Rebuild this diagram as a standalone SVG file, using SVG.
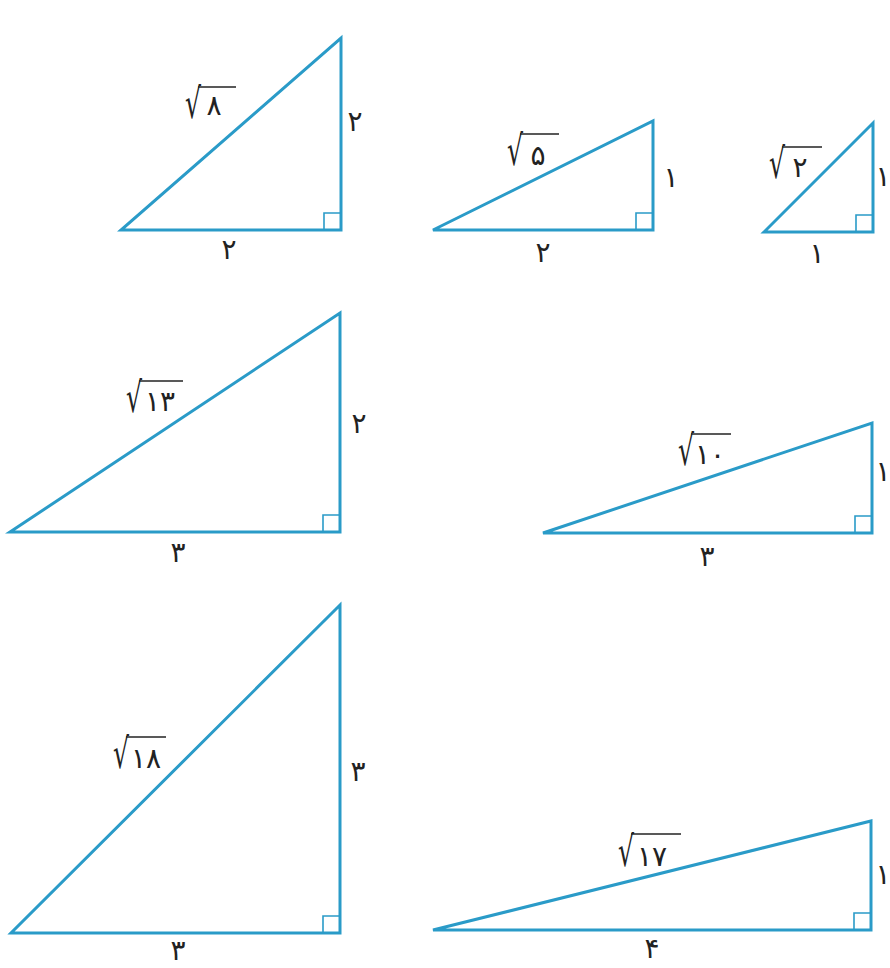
<svg xmlns="http://www.w3.org/2000/svg" width="890" height="968" viewBox="0 0 890 968">
<style>
.tri{fill:none;stroke:#2a9bc8;stroke-width:3;stroke-linejoin:miter}
.ra{fill:none;stroke:#2a9bc8;stroke-width:1.6}
.num{font-family:"DejaVu Sans",sans-serif;font-size:28px;fill:#222;text-anchor:middle}
.rad{font-family:"DejaVu Sans",sans-serif;font-size:42px;fill:#222}
.bar{stroke:#222;stroke-width:1.5}
</style>
<rect width="890" height="968" fill="#fff"/>
<g id="t1">
<polygon class="tri" points="121,230 341,230 341,38"/>
<polyline class="ra" points="324,230 324,213 341,213"/>
<text class="rad" transform="translate(185,118) scale(0.6,1)">√</text><line class="bar" x1="198" y1="87" x2="236" y2="87"/>
<text class="num" x="214" y="115">۸</text>
<text class="num" x="355" y="131">۲</text>
<text class="num" x="229" y="259">۲</text>
</g>
<g id="t2">
<polygon class="tri" points="433,230 653,230 653,121"/>
<polyline class="ra" points="636,230 636,213 653,213"/>
<text class="rad" transform="translate(507,165) scale(0.6,1)">√</text><line class="bar" x1="520" y1="134" x2="559" y2="134"/>
<text class="num" x="538" y="165">۵</text>
<text class="num" x="671" y="187">۱</text>
<text class="num" x="543" y="262">۲</text>
</g>
<g id="t3">
<polygon class="tri" points="764,232 873,232 873,123"/>
<polyline class="ra" points="856,232 856,215 873,215"/>
<text class="rad" transform="translate(769,178) scale(0.6,1)">√</text><line class="bar" x1="782" y1="147" x2="822" y2="147"/>
<text class="num" x="800" y="177">۲</text>
<text class="num" x="817" y="263">۱</text>
<text class="num" x="883" y="186">۱</text>
</g>
<g id="t4">
<polygon class="tri" points="10,532 340,532 340,313"/>
<polyline class="ra" points="323,532 323,515 340,515"/>
<text class="rad" transform="translate(126,412) scale(0.6,1)">√</text><line class="bar" x1="139" y1="381" x2="183" y2="381"/>
<text class="num" x="160" y="411">۱۳</text>
<text class="num" x="359" y="433">۲</text>
<text class="num" x="178" y="562">۳</text>
</g>
<g id="t5">
<polygon class="tri" points="543,533 872,533 872,423"/>
<polyline class="ra" points="855,533 855,516 872,516"/>
<text class="rad" transform="translate(678,465) scale(0.6,1)">√</text><line class="bar" x1="691" y1="434" x2="731" y2="434"/>
<text class="num" x="710" y="464">۱۰</text>
<text class="num" x="707" y="566">۳</text>
<text class="num" x="883" y="481">۱</text>
</g>
<g id="t6">
<polygon class="tri" points="11,933 340,933 340,605"/>
<polyline class="ra" points="323,933 323,916 340,916"/>
<text class="rad" transform="translate(113,768) scale(0.6,1)">√</text><line class="bar" x1="126" y1="737" x2="166" y2="737"/>
<text class="num" x="146" y="768">۱۸</text>
<text class="num" x="358" y="781">۳</text>
<text class="num" x="178" y="960">۳</text>
</g>
<g id="t7">
<polygon class="tri" points="433,930 871,930 871,821"/>
<polyline class="ra" points="854,930 854,913 871,913"/>
<text class="rad" transform="translate(618,866) scale(0.6,1)">√</text><line class="bar" x1="631" y1="834" x2="681" y2="834"/>
<text class="num" x="652" y="866">۱۷</text>
<text class="num" x="652" y="958">۴</text>
<text class="num" x="883" y="884">۱</text>
</g>
</svg>
